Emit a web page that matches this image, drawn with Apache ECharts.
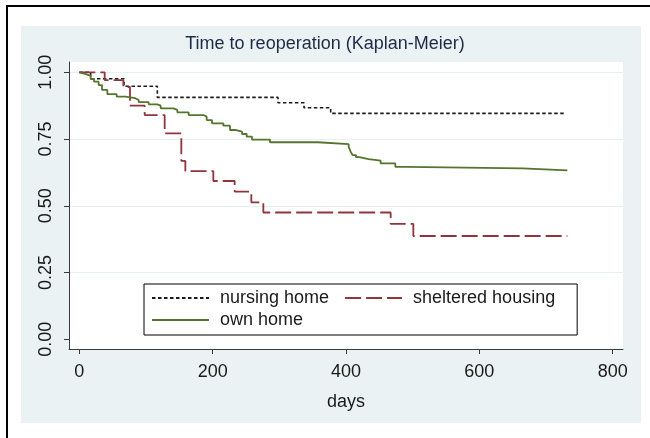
<!DOCTYPE html>
<html><head><meta charset="utf-8">
<script src="https://cdn.jsdelivr.net/npm/echarts@6/dist/echarts.min.js"></script>
<style>html,body{margin:0;padding:0;background:#fff}#c{width:650px;height:438px}</style>
</head><body><div id="c"></div>
<script>
// ---- data ----
const chartTitle = 'Time to reoperation (Kaplan-Meier)';
const xAxisName = 'days';
const xTickValues = [0, 200, 400, 600, 800];
const yTickValues = [0, 0.25, 0.5, 0.75, 1];
const yGridValues = [0.25, 0.5, 0.75, 1];
const seriesNames = ['nursing home', 'sheltered housing', 'own home'];

const nursingDays = [0, 17, 67, 117, 298, 337, 377, 727];
const nursingSurv = [1.0, 0.976, 0.948, 0.906, 0.886, 0.867, 0.846, 0.846];

const shelteredDays = [0, 38, 66, 76, 98, 128, 153, 159, 201, 233, 258, 276, 467, 501, 732];
const shelteredSurv = [1.0, 0.971, 0.945, 0.875, 0.840, 0.771, 0.668, 0.630, 0.593, 0.553, 0.513, 0.475, 0.432, 0.387, 0.387];

const ownDays = [0, 3, 10, 17, 22, 29, 34, 42, 56, 69, 84, 89, 104, 117, 122, 141, 147, 164, 186, 191, 199, 216, 226, 234, 244, 251, 259, 286, 358, 404, 407, 410, 415, 420, 434, 452, 474, 491, 665, 732];
const ownSurv = [1.0, 0.993, 0.987, 0.975, 0.965, 0.952, 0.934, 0.918, 0.909, 0.903, 0.896, 0.888, 0.880, 0.875, 0.865, 0.859, 0.850, 0.840, 0.834, 0.821, 0.809, 0.800, 0.784, 0.778, 0.769, 0.759, 0.748, 0.738, 0.731, 0.721, 0.703, 0.690, 0.682, 0.675, 0.669, 0.659, 0.646, 0.640, 0.633, 0.633];

// ---- build ----
const zip = (a, b) => a.map((v, i) => [v, b[i]]);
const FONT = "'Liberation Sans', Arial, Helvetica, sans-serif";
const TXT = '#1a1a1a';
const AX = '#3a3a3a';

const chart = echarts.init(document.getElementById('c'), null, {renderer: 'canvas'});
const option = {
  backgroundColor: '#ffffff',
  animation: false,
  graphic: [
    {type: 'rect', z: -10, shape: {x: 21, y: 26, width: 620, height: 397}, style: {fill: '#EAF2F3'}},
    {type: 'rect', z: -9, shape: {x: 7, y: 6, width: 700, height: 500}, style: {fill: 'none', stroke: '#000', lineWidth: 2}}
  ],
  title: {
    text: chartTitle, left: 'center', top: 35, padding: 0,
    textStyle: {fontFamily: FONT, fontSize: 18, fontWeight: 'normal', color: '#1e2b46'}
  },
  grid: {left: 69, right: 27, top: 62, bottom: 89, show: true, backgroundColor: '#ffffff', borderWidth: 0},
  legend: {
    data: seriesNames, left: 144, top: 284, width: 440,
    orient: 'horizontal', itemGap: 4, itemWidth: 57, itemHeight: 14,
    padding: [5, 11, 6, 7],
    backgroundColor: '#ffffff', borderColor: '#000', borderWidth: 1,
    itemStyle: {opacity: 0},
    textStyle: {fontFamily: FONT, fontSize: 18, color: TXT, lineHeight: 18, padding: [0, 11, 0, 6]}
  },
  xAxis: {
    type: 'value', min: -15.5, max: 815.5,
    name: xAxisName, nameLocation: 'middle', nameGap: 44,
    nameTextStyle: {fontFamily: FONT, fontSize: 18, color: TXT},
    axisLine: {show: true, onZero: false, lineStyle: {color: AX, width: 1}},
    axisTick: {show: true, length: 5, lineStyle: {color: AX}, customValues: xTickValues},
    axisLabel: {fontFamily: FONT, fontSize: 18, color: TXT, margin: 14, customValues: xTickValues},
    splitLine: {show: false}
  },
  yAxis: [{
    type: 'value', min: -0.0363, max: 1.0386,
    axisLine: {show: true, onZero: false, lineStyle: {color: AX, width: 1}},
    axisTick: {show: true, length: 5, lineStyle: {color: AX}, customValues: yTickValues},
    axisLabel: {fontFamily: FONT, fontSize: 18, color: TXT, margin: 14, rotate: 90,
      customValues: yTickValues, formatter: v => v.toFixed(2)},
    splitLine: {show: false}
  }, {
    type: 'value', min: -0.0363, max: 1.0386, position: 'left',
    axisLine: {show: false}, axisLabel: {show: false},
    axisTick: {show: false, customValues: yGridValues},
    splitLine: {show: true, lineStyle: {color: '#E6F0F2', width: 1}}
  }],
  series: [
    {name: seriesNames[0], type: 'line', step: 'end', symbol: 'none', yAxisIndex: 0,
     data: zip(nursingDays, nursingSurv),
     itemStyle: {color: '#1a1a1a'},
     lineStyle: {color: '#1a1a1a', width: 1.6, type: [3.5, 2.5]}},
    {name: seriesNames[1], type: 'line', step: 'end', symbol: 'none', yAxisIndex: 0,
     data: zip(shelteredDays, shelteredSurv),
     itemStyle: {color: '#90353B'},
     lineStyle: {color: '#90353B', width: 1.8, type: [16, 5]}},
    {name: seriesNames[2], type: 'line', step: 'end', symbol: 'none', yAxisIndex: 0,
     data: zip(ownDays, ownSurv),
     itemStyle: {color: '#55752F'},
     lineStyle: {color: '#55752F', width: 1.8, type: 'solid'}}
  ]
};
chart.setOption(option);
</script></body></html>
